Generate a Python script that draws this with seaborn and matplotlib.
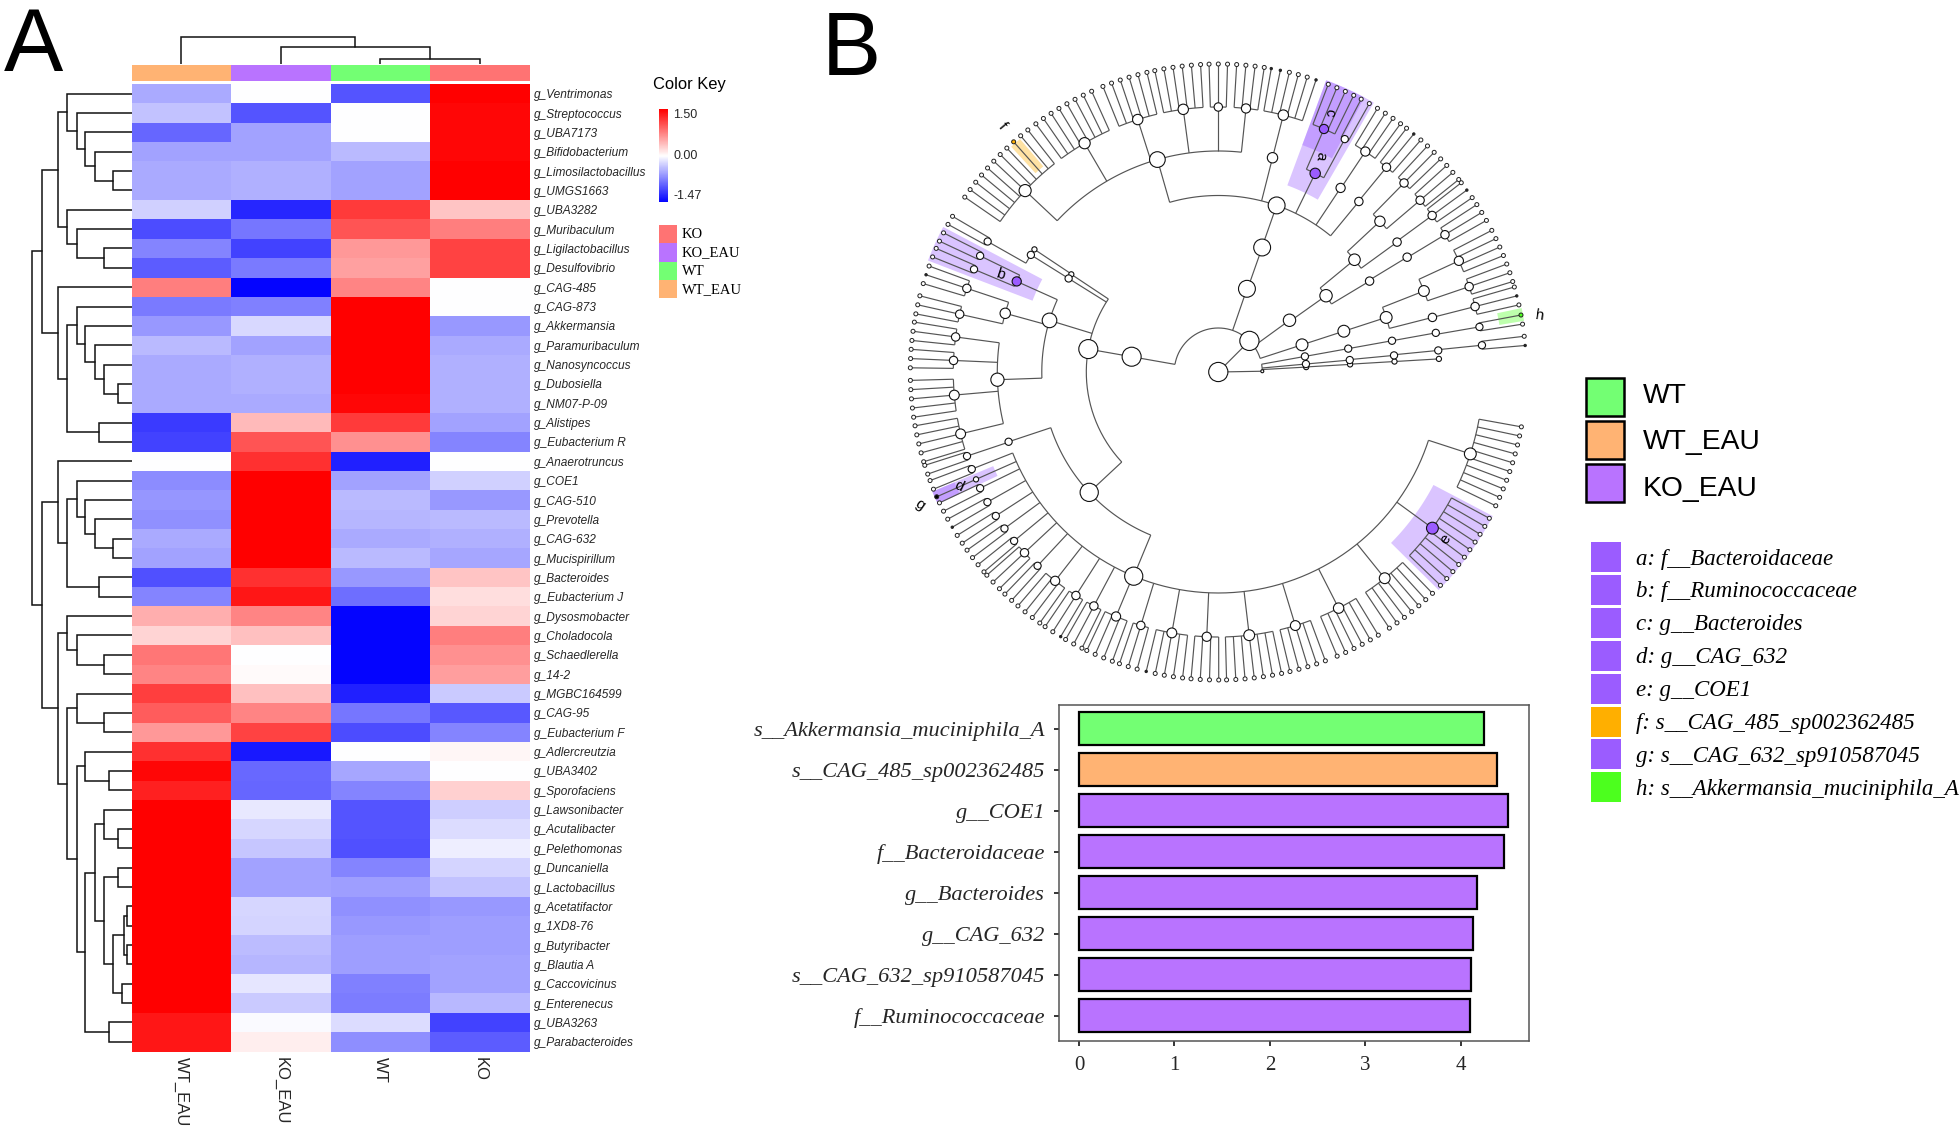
import numpy as np
import pandas as pd
import seaborn as sns
import matplotlib
matplotlib.use("Agg")
import matplotlib.pyplot as plt
from matplotlib.colors import LinearSegmentedColormap, ListedColormap
from matplotlib.patches import Rectangle

sns.set_theme(style="white")
plt.rcParams["font.family"] = ["Liberation Sans", "DejaVu Sans"]

# ------------------------------------------------------------------ data
groups = ["WT_EAU", "KO_EAU", "WT", "KO"]
genera = ["g_Ventrimonas", "g_Streptococcus", "g_UBA7173", "g_Bifidobacterium", "g_Limosilactobacillus",
          "g_UMGS1663", "g_UBA3282", "g_Muribaculum", "g_Ligilactobacillus", "g_Desulfovibrio",
          "g_CAG-485", "g_CAG-873", "g_Akkermansia", "g_Paramuribaculum", "g_Nanosyncoccus",
          "g_Dubosiella", "g_NM07-P-09", "g_Alistipes", "g_Eubacterium R", "g_Anaerotruncus",
          "g_COE1", "g_CAG-510", "g_Prevotella", "g_CAG-632", "g_Mucispirillum",
          "g_Bacteroides", "g_Eubacterium J", "g_Dysosmobacter", "g_Choladocola", "g_Schaedlerella",
          "g_14-2", "g_MGBC164599", "g_CAG-95", "g_Eubacterium F", "g_Adlercreutzia",
          "g_UBA3402", "g_Sporofaciens", "g_Lawsonibacter", "g_Acutalibacter", "g_Pelethomonas",
          "g_Duncaniella", "g_Lactobacillus", "g_Acetatifactor", "g_1XD8-76", "g_Butyribacter",
          "g_Blautia A", "g_Caccovicinus", "g_Enterenecus", "g_UBA3263", "g_Parabacteroides"]
wt_eau = [-.5, -.35, -.9, -.55, -.5, -.5, -.27, -1.05, -.72, -.95, .75, -.78, -.6, -.4, -.5, -.5, -.5, -1.15, -1.1, 0,
          -.68, -.62, -.65, -.5, -.55, -1.02, -.72, .47, .25, .8, .72, 1.12, .95, .6, 1.2, 1.45, 1.3, 1.5, 1.5, 1.5,
          1.5, 1.5, 1.5, 1.5, 1.5, 1.5, 1.5, 1.5, 1.35, 1.35]
ko_eau = [0, -1.0, -.55, -.55, -.47, -.47, -1.27, -.8, -1.1, -.78, -1.47, -.75, -.22, -.55, -.47, -.47, -.5, .4, 1.0, 1.2,
          1.5, 1.5, 1.5, 1.5, 1.5, 1.2, 1.35, .72, .37, 0, .03, .37, .72, 1.1, -1.35, -.88, -.9, -.13, -.23, -.33,
          -.55, -.55, -.24, -.25, -.38, -.43, -.14, -.3, -.03, .1]
wt = [-1.0, 0, 0, -.4, -.55, -.55, 1.15, 1.0, .6, .55, .72, 1.5, 1.5, 1.5, 1.5, 1.5, 1.45, 1.15, .65, -1.3,
      -.55, -.4, -.43, -.5, -.4, -.6, -.85, -1.47, -1.47, -1.47, -1.47, -1.3, -.8, -1.05, 0, -.52, -.72, -1.0, -1.0, -1.02,
      -.72, -.57, -.65, -.6, -.57, -.57, -.75, -.77, -.2, -.66]
ko = [1.5, 1.45, 1.45, 1.45, 1.5, 1.5, .35, .75, 1.1, 1.1, 0, 0, -.6, -.5, -.47, -.47, -.47, -.55, -.72, 0,
      -.27, -.6, -.4, -.47, -.53, .35, .2, .25, .75, .65, .57, -.3, -.98, -.72, .05, 0, .28, -.28, -.2, -.1,
      -.25, -.35, -.6, -.57, -.57, -.55, -.55, -.42, -1.1, -.95]

row_tree = (206,
            (185,
             (151, (133, 0, (113, 1, (95, 2, (75, 3, (38, 4, 5))))), (133, 6, (113, 7, (56, 8, 9)))),
             (151, 10, (133, (113, 11, (95, 12, (75, 13, (56, 14, (28, 15, 16))))), (66, 17, 18)))),
            (185,
             (151, 19, (133, (113, 20, (95, 21, (75, 22, (38, 23, 24)))), (66, 25, 26))),
             (151, (133, 27, (113, 28, (56, 29, 30))),
              (133, (113, 31, (56, 32, 33)),
               (113, (95, 34, (47, 35, 36)),
                (95, (75, (56, 37, (28, 38, 39)),
                      (56, (28, 40, 41), (38, (16, (9, 42, 43), (9, 44, 45)), (19, 46, 47)))),
                 (47, 48, 49)))))))
col_tree = (27, 0, (16.5, 1, (4.5, 2, 3)))

key_labels = ["KO", "KO_EAU", "WT", "WT_EAU"]
group_colors = {"KO": "#FF7373", "KO_EAU": "#B973FF", "WT": "#73FF73", "WT_EAU": "#FFB373"}

bar_names = ["s__Akkermansia_muciniphila_A", "s__CAG_485_sp002362485", "g__COE1", "f__Bacteroidaceae",
             "g__Bacteroides", "g__CAG_632", "s__CAG_632_sp910587045", "f__Ruminococcaceae"]
bar_values = [4.247, 4.384, 4.493, 4.449, 4.175, 4.126, 4.11, 4.093]
bar_groups = ["WT", "WT_EAU", "KO_EAU", "KO_EAU", "KO_EAU", "KO_EAU", "KO_EAU", "KO_EAU"]

marker_labels = ["a: f__Bacteroidaceae", "b: f__Ruminococcaceae", "c: g__Bacteroides", "d: g__CAG_632", "e: g__COE1",
                 "f: s__CAG_485_sp002362485", "g: s__CAG_632_sp910587045", "h: s__Akkermansia_muciniphila_A"]
marker_colors = ["#9B5CFF"] * 5 + ["#FFAF00", "#9B5CFF", "#4CFF1E"]

PURPLE, ORANGE, GREEN = "#9B5CFF", "#FFAF00", "#4CFF1E"


def N(theta, *children, color=None, size=None):
    return dict(theta=theta, children=children, color=color, size=size)


clade_b = N(1,
            N(3.2, N(3.3, N(3.4, N(3.4)))),
            N(5.2, N(5.2, N(5.4, N(5.6, N(5.8, 2))))),
            N(10.2, N(10.2, N(10.2, N(10.2, N(9.8, 2))))), size=1.5)
clade_18 = N(18, N(18, N(18, N(14.3, N(14.3, 3)), N(21.5, N(18.8, 3), N(24.8, 4)))))
clade_36 = N(36, N(35.3, N(39.5, N(36, N(36.2, 3)), N(43, N(40.4, 3), N(45.5, 3))),
                   N(31, N(31.3, N(31.2, 3)))))
clade_71 = N(71, N(70.6, N(70.7,
                           N(50.5, N(50.6, 3)),
                           N(56.4, N(56.3, 4)),
                           N(64, N(61.5, 2), N(66.5, 4, color=PURPLE), color=PURPLE),
                           N(75.8, N(75.8, 6)),
                           N(106, N(84, 4), N(90, 3), N(97.6, 6), N(107.7, 6), N(120.3, 8), N(136.8, 11)))))
clade_170 = N(170, N(170,
                     N(146.4, N(146.3)),
                     N(148, N(148, N(150.5, 2))),
                     N(163,
                       N(155.8, N(154, 2), N(157.2, 2), color=PURPLE),
                       N(164.6, N(161.6, 3), N(167.4, 3)),
                       N(182, N(172.4, 3), N(177.5, 3), N(185, 5), N(193.5, 5))),
                     N(223,
                       N(198.4, N(198.5, 2)),
                       N(247.5, N(201.5, 2), N(203.9, 1), N(206, 2), N(209.4, 2), N(212.9, 2), N(216.2, 2),
                         N(219.6, 2), N(223, 3), N(227, 2), N(232, 4), N(237.5, 3), N(242, 3), N(247.3, 4),
                         N(253, 3), N(259.9, 5), N(267.5, 4), N(276.7, 7), N(286.9, 5), N(297, 6), N(308.9, 7),
                         N(323.9, 10, color=PURPLE), N(342, 10)))))
clade_a = N(45, clade_170, clade_71, clade_36, clade_18)
clado_root = N(0, clade_a, clade_b)

leaf_step = 1.72
ring_radii = [0, 44, 88, 132, 176.5, 221, 265, 308]
hi_bands = [(60, 69.7, 199, 311, PURPLE), (62, 69.7, 242, 311, PURPLE), (152.2, 159, 199, 311, PURPLE),
            (202.7, 205.2, 244, 310, PURPLE), (202.7, 205.2, 286, 310, PURPLE), (315.3, 332.3, 243, 310, PURPLE),
            (130.4, 132.6, 270, 306, ORANGE), (9.5, 11.9, 285, 310, GREEN)]
hi_leaves = [(131.6, ORANGE), (10.7, GREEN), (203.9, "black")]
dark_leaves = [5, 14.3, 28.5, 35.4, 50.6, 71.5, 78, 79.8, 161.6, 210.2, 238.8, 255.7]
clado_labels = [("a", 64.7, 238.5, -100), ("b", 155.8, 239, -18), ("c", 66.7, 282.7, -100), ("d", 203.8, 283, -25),
                ("e", 323.7, 282, 55), ("f", 131.3, 326.7, -50), ("g", 204, 327, -35), ("h", 9.9, 326, -8)]

# ------------------------------------------------------------------ layout helpers
W, H = 1960, 1128
fig = plt.figure(figsize=(W / 100, H / 100), dpi=100)


def axpx(x0, y0, x1, y1, **kw):
    return fig.add_axes([x0 / W, 1 - y1 / H, (x1 - x0) / W, (y1 - y0) / H], **kw)


def tpx(x, y, s, **kw):
    return fig.text(x / W, 1 - y / H, s, **kw)


def rpx(x0, y0, x1, y1, **kw):
    fig.add_artist(Rectangle((x0 / W, 1 - y1 / H), (x1 - x0) / W, (y1 - y0) / H, transform=fig.transFigure, **kw))


tpx(4, 71, "A", fontsize=64, color="black", va="baseline")
tpx(822, 75, "B", fontsize=64, color="black", va="baseline")

# ------------------------------------------------------------------ heatmap
HX0, HX1, HY0, HY1 = 131.5, 529.5, 84, 1051.5
ax = axpx(HX0, HY0, HX1, HY1)
cax = axpx(659, 109, 667.5, 202)
table = pd.DataFrame({"WT_EAU": wt_eau, "KO_EAU": ko_eau, "WT": wt, "KO": ko}, index=genera)
bwr = LinearSegmentedColormap.from_list("bwr2", ["#0000FF", "#FFFFFF", "#FF0000"])
sns.heatmap(table, ax=ax, cmap=bwr, center=0, vmin=-1.47, vmax=1.5, cbar_ax=cax, linewidths=0, rasterized=True,
            xticklabels=True, yticklabels=True)
ax.yaxis.tick_right()
ax.tick_params(axis="y", length=0, pad=3.2, labelrotation=0)
ax.tick_params(axis="x", length=0, pad=4)
for t in ax.get_yticklabels():
    t.set_fontsize(8.6)
    t.set_fontstyle("italic")
    t.set_rotation(0)
for t in ax.get_xticklabels():
    t.set_fontsize(12)
    t.set_rotation(270)
    t.set_ha("center")
    t.set_va("top")
ax.set_xlabel("")
ax.set_ylabel("")

cax.set_yticks([1.5, 0, -1.47])
cax.set_yticklabels(["1.50", "0.00", "-1.47"], fontsize=9)
cax.tick_params(length=0, pad=4)
for t, va in zip(cax.get_yticklabels(), ["top", "center", "bottom"]):
    t.set_va(va)
for s in cax.spines.values():
    s.set_visible(False)
tpx(653, 85, "Color Key", fontsize=11.9, va="center", color="black")

# annotation strip
strip = axpx(HX0, 65, HX1, 81)
sns.heatmap(pd.DataFrame([[0, 1, 2, 3]]), ax=strip, cbar=False, xticklabels=False, yticklabels=False,
            cmap=ListedColormap([group_colors[g] for g in groups]), linewidths=0)

# group key
for i, lab in enumerate(key_labels):
    y0 = 225 + i * 18.3
    rpx(659, y0, 677, y0 + 18.3, facecolor=group_colors[lab], edgecolor="none")
    tpx(682, y0 + 9.5, lab, fontsize=10.5, family="Liberation Serif", va="center", color="black")


# dendrograms
def draw_row(node, a):
    if isinstance(node, int):
        return 0, node + 0.5
    h, l, r = node
    hl, yl = draw_row(l, a)
    hr, yr = draw_row(r, a)
    a.plot([hl, h, h, hr], [yl, yl, yr, yr], color="#111111", lw=1.1, solid_joinstyle="miter")
    return h, (yl + yr) / 2


rd = axpx(0, HY0, HX0, HY1)
draw_row(row_tree, rd)
rd.set_xlim(271, 0)
rd.set_ylim(50, 0)
rd.axis("off")


def draw_col(node, a):
    if isinstance(node, int):
        return 0, node + 0.5
    h, l, r = node
    hl, xl = draw_col(l, a)
    hr, xr = draw_col(r, a)
    a.plot([xl, xl, xr, xr], [hl, h, h, hr], color="#111111", lw=1.1, solid_joinstyle="miter")
    return h, (xl + xr) / 2


cd = axpx(HX0, 35, HX1, 63.5)
draw_col(col_tree, cd)
cd.set_xlim(0, 4)
cd.set_ylim(0, 28.5)
cd.axis("off")

# ------------------------------------------------------------------ cladogram
CX, CY, RM = 1218.3, 372, 330
pol = axpx(CX - RM, CY - RM, CX + RM, CY + RM, projection="polar")
pol.set_ylim(0, RM)
pol.axis("off")
LINE = "#555555"
seg_kw = dict(color=LINE, lw=0.85, zorder=2, solid_capstyle="butt")
node_x, node_y, node_s, node_c = [], [], [], []
leaf_x, leaf_y = [], []


def n_leaves(nd):
    total = 0
    for c in nd["children"]:
        total += c if isinstance(c, int) else n_leaves(c)
    return max(total, 1)


def walk(nd, lev):
    r = ring_radii[lev]
    angs = []
    for c in nd["children"]:
        if isinstance(c, int):
            for i in range(c):
                t = nd["theta"] + leaf_step * (i - (c - 1) / 2)
                angs.append(t)
                pol.plot(np.radians([t, t]), [r, ring_radii[-1]], **seg_kw)
                leaf_x.append(t)
                leaf_y.append(ring_radii[-1])
        else:
            t = c["theta"]
            angs.append(t)
            pol.plot(np.radians([t, t]), [r, ring_radii[lev + 1]], **seg_kw)
            walk(c, lev + 1)
    if angs and lev > 0:
        lo, hi = min(angs + [nd["theta"]]), max(angs + [nd["theta"]])
        tt = np.radians(np.linspace(lo, hi, max(int(hi - lo) * 2, 2)))
        pol.plot(tt, np.full_like(tt, r), **seg_kw)
    rad = nd["size"] if nd["size"] else min(9.6, 2.6 + np.log2(n_leaves(nd)))
    if lev <= 1 and not nd["size"]:
        rad = 9.6
    node_x.append(nd["theta"])
    node_y.append(r)
    node_s.append((2 * rad * 0.72) ** 2)
    node_c.append(nd["color"] or "white")


walk(clado_root, 0)
for lo, hi, r0, r1, col in hi_bands:
    tt = np.radians(np.linspace(lo, hi, 30))
    pol.fill(np.r_[tt, tt[::-1]], np.r_[np.full(30, r0), np.full(30, r1)], color=col, alpha=0.36, lw=0, zorder=1)
pol.scatter(np.radians(node_x), node_y, s=node_s, c=node_c, edgecolors="#111111", linewidths=0.8, zorder=4)
leaf_col, leaf_size = [], []
for t in leaf_x:
    c, rad = "white", 2.0
    for dt in dark_leaves:
        if abs(t - dt) < 0.87:
            c, rad = "#222222", 1.2
    for ht, hc in hi_leaves:
        if abs(t - ht) < 0.5:
            c, rad = hc, 2.0
    leaf_col.append(c)
    leaf_size.append((2 * rad * 0.72) ** 2)
pol.scatter(np.radians(leaf_x), leaf_y, s=leaf_size, c=leaf_col, edgecolors="#222222", linewidths=0.7, zorder=4)
for s, t, r, rot in clado_labels:
    pol.text(np.radians(t), r, s, fontsize=11, rotation=rot, rotation_mode="anchor", ha="center", va="center",
             color="black", zorder=5, clip_on=False)

# ------------------------------------------------------------------ LDA bars
bax = axpx(1058.5, 704.5, 1528.5, 1040.5)
bars = pd.DataFrame({"name": bar_names, "lda": bar_values, "group": bar_groups})
sns.barplot(data=bars, x="lda", y="name", hue="group", palette=group_colors, dodge=False, width=0.8, saturation=1,
            edgecolor="black", linewidth=1.6, ax=bax, legend=False, orient="h")
bax.set_xlim(-0.215, 4.71)
bax.set_ylim(7.6, -0.59)
bax.set_xlabel("")
bax.set_ylabel("")
bax.set_xticks([0, 1, 2, 3, 4])
for s in bax.spines.values():
    s.set_visible(True)
    s.set_color("#555555")
    s.set_linewidth(1.1)
bax.tick_params(axis="y", length=3.5, width=1.1, color="black", left=True, pad=6)
bax.tick_params(axis="x", length=3.5, width=1.1, color="black", bottom=True, pad=8)
for t in bax.get_yticklabels():
    t.set_family("Liberation Serif")
    t.set_style("italic")
    t.set_fontsize(16.1)
for t in bax.get_xticklabels():
    t.set_family("Liberation Serif")
    t.set_fontsize(15)

# ------------------------------------------------------------------ right legends
legend_baselines = [403.3, 449.3, 495.7]
for i, g in enumerate(["WT", "WT_EAU", "KO_EAU"]):
    y0 = 377.5 + i * 43.3
    rpx(1585.5, y0, 1623.5, y0 + 38, facecolor=group_colors[g], edgecolor="black", linewidth=1.8)
    tpx(1643, legend_baselines[i], g, fontsize=20.3, va="baseline", color="black")
for i, (lab, col) in enumerate(zip(marker_labels, marker_colors)):
    y0 = 542 + i * 32.9
    rpx(1591, y0, 1621, y0 + 30, facecolor=col, edgecolor="none")
    tpx(1636, y0 + 17, lab, fontsize=16.5, family="Liberation Serif", style="italic", va="center", color="black")

fig.savefig("out.png", dpi=100, facecolor="white")
